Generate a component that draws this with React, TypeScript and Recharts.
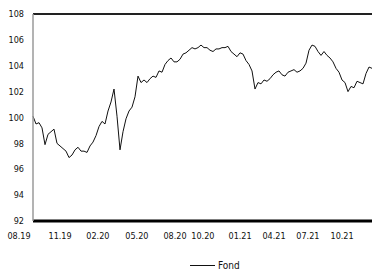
import { LineChart, Line, XAxis, YAxis, ReferenceLine, Legend } from "recharts";

// Weekly fund index (roughly one point every 3px)
const FOND_VALUES = [
  100.1, 99.5, 99.6, 99.2, 97.9, 98.7, 98.9, 99.1, 98.0, 97.8,
  97.6, 97.4, 96.9, 97.1, 97.5, 97.7, 97.4, 97.4, 97.3, 97.8,
  98.1, 98.6, 99.3, 99.7, 99.5, 100.5, 101.2, 102.2, 100.1, 97.5,
  98.9, 99.9, 100.5, 100.8, 101.6, 103.2, 102.7, 102.9, 102.7, 103.0,
  103.2, 103.1, 103.6, 103.5, 104.1, 104.4, 104.6, 104.3, 104.3, 104.5,
  104.9, 105.0, 105.2, 105.4, 105.3, 105.4, 105.6, 105.4, 105.4, 105.2,
  105.1, 105.3, 105.3, 105.4, 105.4, 105.5, 105.1, 104.9, 104.7, 105.0,
  104.9, 104.4, 104.1, 103.6, 102.2, 102.7, 102.6, 102.9, 102.8, 103.0,
  103.3, 103.5, 103.6, 103.3, 103.2, 103.5, 103.6, 103.7, 103.5, 103.6,
  103.8, 104.2, 105.2, 105.6, 105.5, 105.1, 104.8, 105.1, 104.8, 104.6,
  104.3, 103.8, 103.5, 102.9, 102.7, 102.0, 102.4, 102.3, 102.8, 102.7,
  102.6, 103.4, 103.9, 103.8,
];

const Y_TICKS = [92, 94, 96, 98, 100, 102, 104, 106, 108];

// where each date label sits, in weeks from the first point
const X_TICK_WEEKS = [0, 13.7, 26.3, 39.3, 52, 61.3, 73.7, 85, 96.3, 107.7];
const X_TICK_LABELS = [
  "08.19", "11.19", "02.20", "05.20", "08.20",
  "10.20", "01.21", "04.21", "07.21", "10.21",
];

const FONT = "'Liberation Sans Narrow', 'DejaVu Sans Condensed', sans-serif";

const data = FOND_VALUES.map((v, i) => ({ week: i, fond: v }));

/* eslint-disable @typescript-eslint/no-explicit-any */
function DateTick({ x, y, payload }: any) {
  const idx = X_TICK_WEEKS.indexOf(payload.value);
  return (
    <text
      x={x - 14}
      y={y + 18}
      textAnchor="middle"
      fontSize={9}
      fontFamily={FONT}
      fill="#111"
    >
      {X_TICK_LABELS[idx]}
    </text>
  );
}

function FondLegend() {
  return (
    <div
      style={{
        width: 372,
        height: 28,
        boxSizing: "border-box",
        paddingLeft: 190,
        paddingTop: 14,
        display: "flex",
        alignItems: "flex-start",
        fontFamily: FONT,
        fontSize: 10,
        color: "#111",
      }}
    >
      <div style={{ display: "flex", alignItems: "center", height: 12 }}>
        <span
          style={{
            display: "inline-block",
            width: 25,
            borderTop: "1.5px solid #111",
            marginRight: 3,
          }}
        />
        <span>Fond</span>
      </div>
    </div>
  );
}
/* eslint-enable @typescript-eslint/no-explicit-any */

export default function App() {
  return (
    <div style={{ position: "absolute", left: 0, top: 0, background: "#fff" }}>
      <LineChart
        width={372}
        height={273}
        data={data}
        margin={{ top: 14, right: 0, bottom: 0, left: 0 }}
      >
        <XAxis
          dataKey="week"
          type="number"
          domain={[0, FOND_VALUES.length - 1]}
          ticks={X_TICK_WEEKS}
          interval={0}
          height={24}
          tickSize={0}
          tickMargin={0}
          tickLine={false}
          axisLine={{ stroke: "#000", strokeWidth: 3 }}
          tick={<DateTick />}
        />
        <YAxis
          type="number"
          domain={[92, 108]}
          ticks={Y_TICKS}
          interval={0}
          width={33}
          tickSize={0}
          tickMargin={9}
          tickLine={false}
          axisLine={{ stroke: "#9a9a9a", strokeWidth: 1.5 }}
          tick={{ fontSize: 9, fontFamily: FONT, fill: "#111" }}
        />
        <ReferenceLine y={108} stroke="#222" strokeWidth={2} />
        <Legend
          verticalAlign="bottom"
          height={28}
          wrapperStyle={{ left: 0, width: 372 }}
          content={<FondLegend />}
        />
        <Line
          type="linear"
          dataKey="fond"
          stroke="#111"
          strokeWidth={1}
          dot={false}
          isAnimationActive={false}
        />
      </LineChart>
    </div>
  );
}
